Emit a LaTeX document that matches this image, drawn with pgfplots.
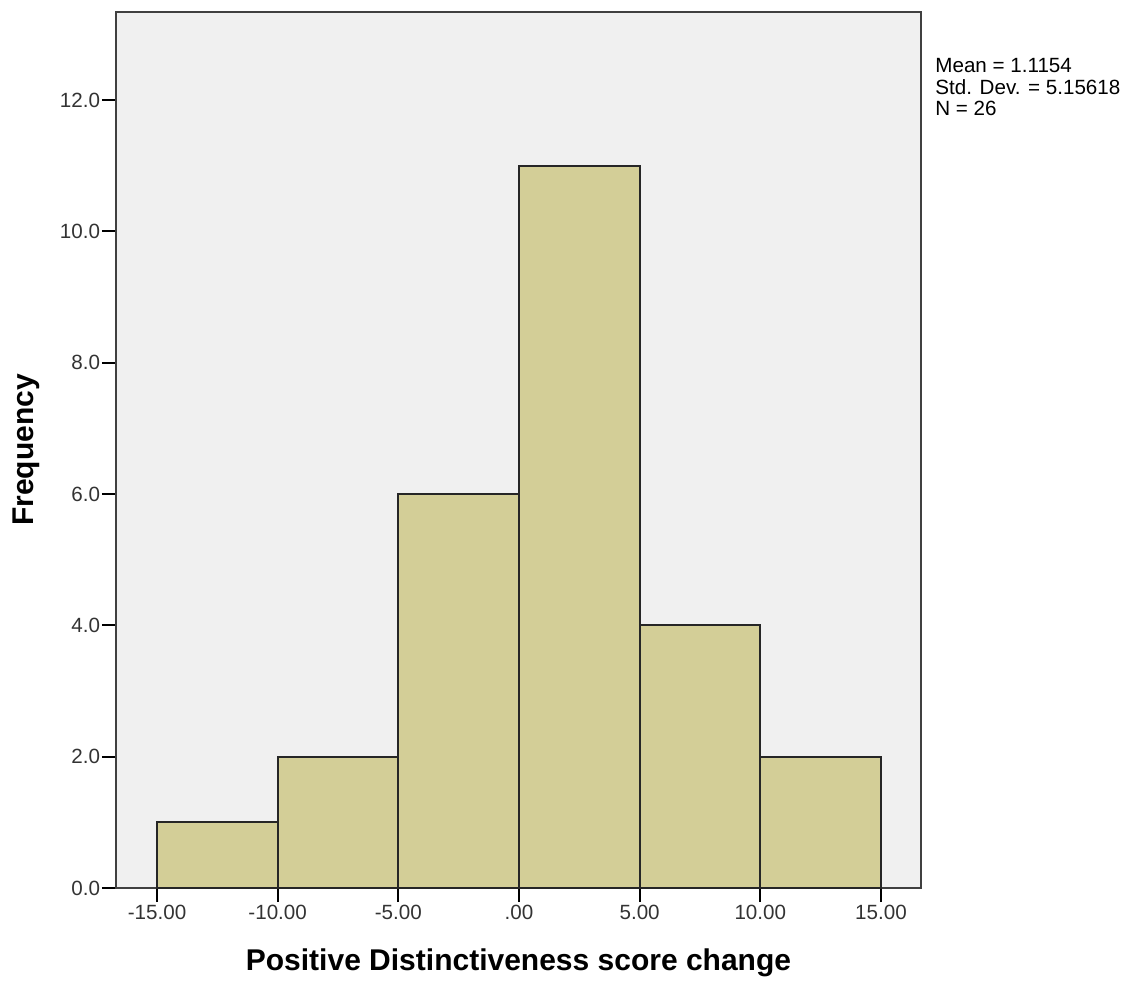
\documentclass[border=0pt]{standalone}
\usepackage{pgfplots}
\pgfplotsset{compat=1.18}
\usepackage{fontspec}
\setmainfont{Liberation Sans}
\definecolor{bgc}{RGB}{240,240,240}
\definecolor{barc}{RGB}{211,206,151}
\begin{document}
\begin{tikzpicture}
\begin{axis}[
  scale only axis,
  width=402.5pt, height=438pt,
  xmin=-16.7, xmax=16.66,
  ymin=0, ymax=13.34,
  axis background/.style={fill=bgc},
  axis line style={black!75, line width=1pt},
  xtick={-15,-10,-5,0,5,10,15},
  xticklabels={-15.00,-10.00,-5.00,.00,5.00,10.00,15.00},
  ytick={0,2,4,6,8,10,12},
  yticklabels={0.0,2.0,4.0,6.0,8.0,10.0,12.0},
  xtick pos=left, ytick pos=left,
  tick align=outside,
  major tick length=7pt,
  tick style={black, line width=1pt},
  ticklabel style={font=\fontsize{10.3}{12}\selectfont, text=black!80},
  yticklabel style={inner sep=0.8pt},
  xticklabel style={inner sep=1.5pt},
  /pgf/number format/assume math mode=true,
  xlabel={\bfseries Positive Distinctiveness score change},
  ylabel={\bfseries Frequency},
  xlabel style={font=\fontsize{15}{17}\selectfont, at={(axis description cs:0.5,0)}, anchor=center, yshift=-37.5pt},
  ylabel style={font=\fontsize{15}{17}\selectfont, at={(axis description cs:0,0.5)}, anchor=center, yshift=45pt},
  ybar, bar width=5, bar shift=0pt,
  clip=false,
]
\addplot[fill=barc, draw=black!85, line width=1pt] coordinates {
  (-12.5,1) (-7.5,2) (-2.5,6) (2.5,11) (7.5,4) (12.5,2)
};
\end{axis}
\node[anchor=north west, align=left, font=\fontsize{10.3}{10.75}\selectfont, inner sep=0pt] at ([xshift=7pt,yshift=-23pt]current axis.north east) {Mean = 1.1154\\Std. Dev. = 5.15618\\N = 26};
\pgfresetboundingbox
\path[use as bounding box] ([xshift=-58pt,yshift=-47.5pt]current axis.south west) rectangle ([xshift=111pt,yshift=6pt]current axis.north east);
\end{tikzpicture}
\end{document}
